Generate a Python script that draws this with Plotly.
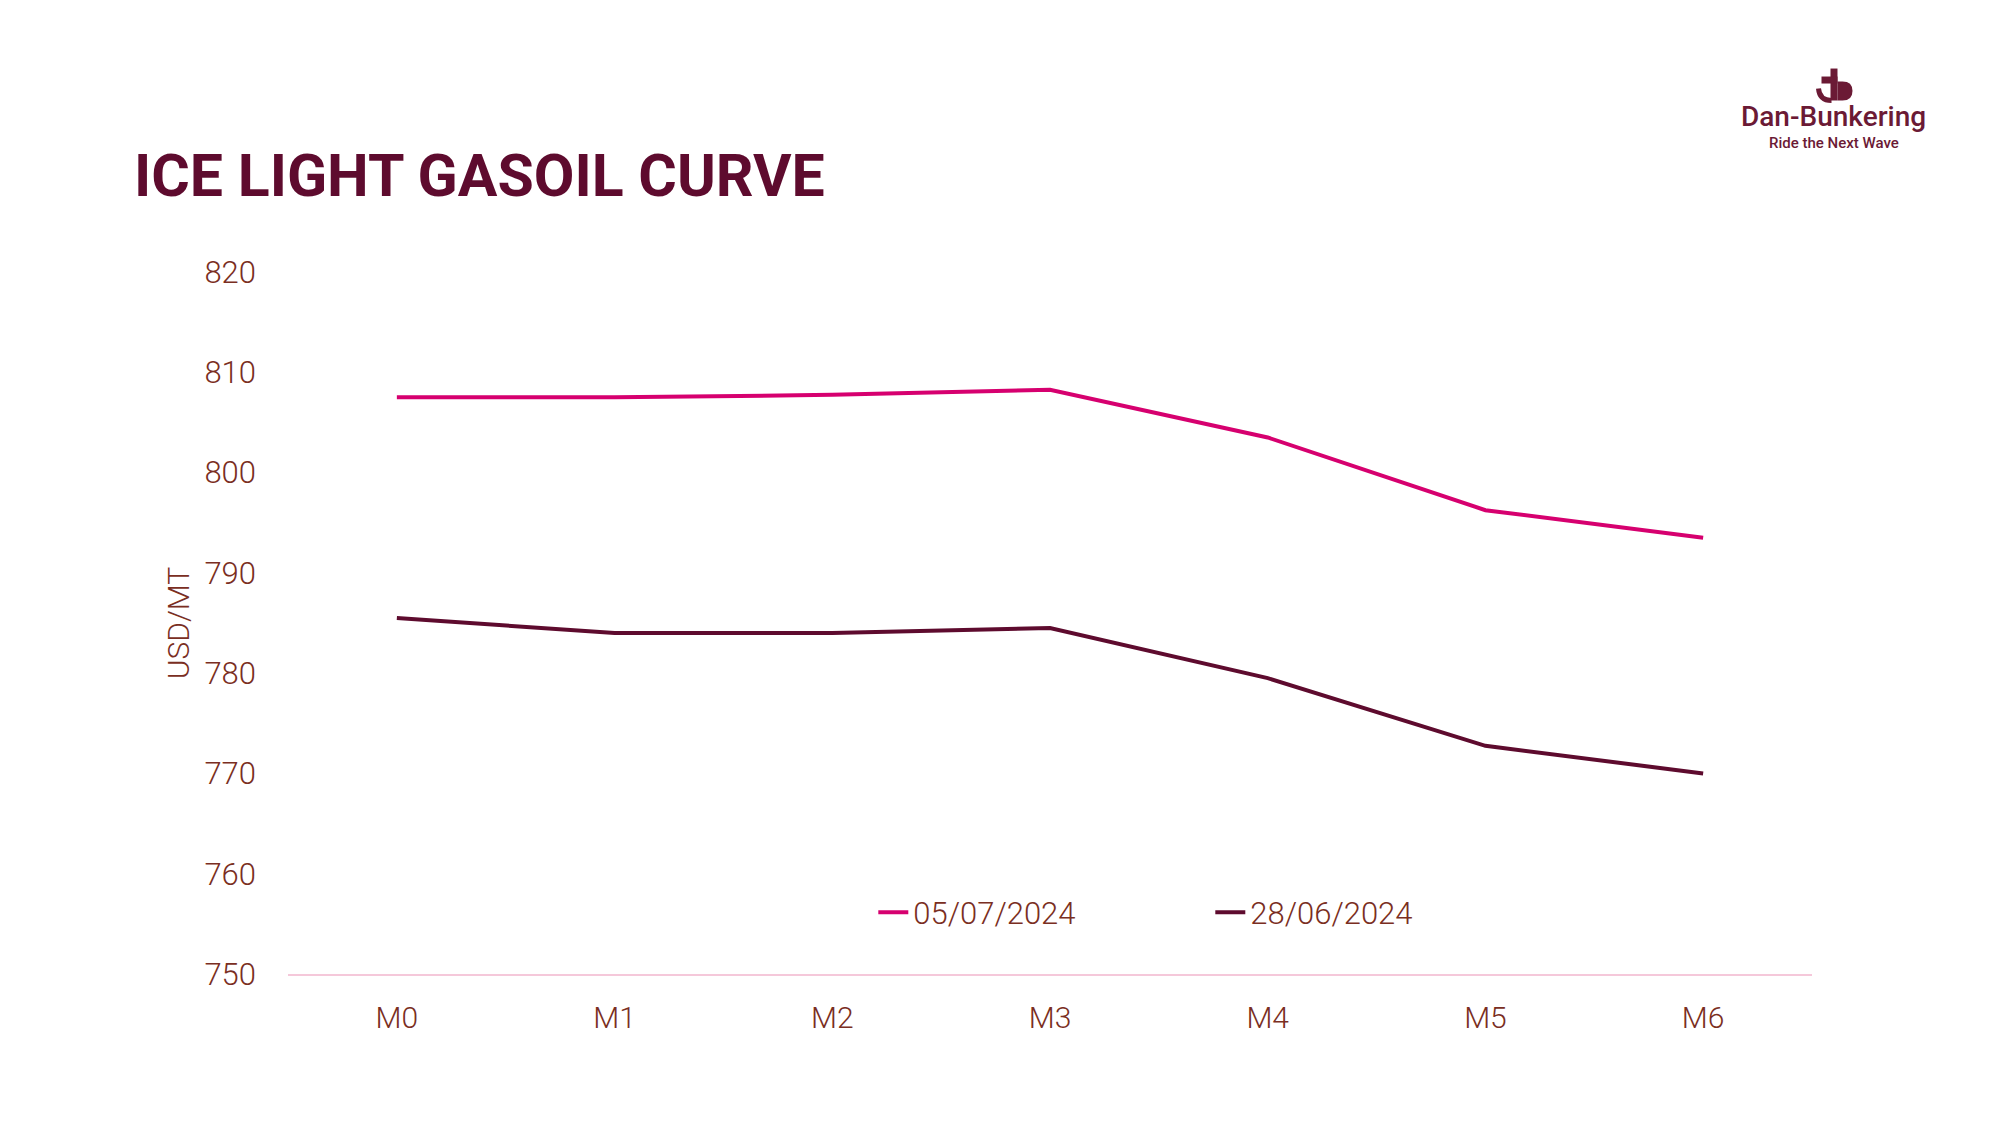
import plotly.graph_objects as go

# ---- data ----
months = ["M0", "M1", "M2", "M3", "M4", "M5", "M6"]
curve_0507 = [807.5, 807.5, 807.75, 808.25, 803.5, 796.25, 793.5]
curve_2806 = [785.5, 784.0, 784.0, 784.5, 779.5, 772.75, 770.0]
series_names = ["05/07/2024", "28/06/2024"]
y_ticks = [750, 760, 770, 780, 790, 800, 810, 820]

PINK = "#D6006F"
MAROON = "#5E0B2E"
TICK = "#7A2E22"
AXIS = "#F5C8DA"
LOGO = "#6B1A35"

OFF = 8  # page body margin
W, H = 2000, 1125
# target plot area in screen pixels
SX0, SX1, SY0, SY1 = 288, 1812.5, 271.7, 974.5
L = SX0 - OFF
T = SY0 - OFF
R = W - (SX1 - OFF)
B = H - (SY1 - OFF)
PW, PH = SX1 - SX0, SY1 - SY0


def px(x):
    return (x - SX0) / PW


def py(y):
    return (SY1 - y) / PH


fig = go.Figure()
fig.add_trace(go.Scatter(x=months, y=curve_0507, name=series_names[0], mode="lines",
                         line=dict(color=PINK, width=4)))
fig.add_trace(go.Scatter(x=months, y=curve_2806, name=series_names[1], mode="lines",
                         line=dict(color=MAROON, width=4)))

fig.update_layout(
    width=W, height=H,
    margin=dict(l=L, r=R, t=T, b=B),
    paper_bgcolor="white", plot_bgcolor="white",
    font=dict(family="Roboto, 'Open Sans', sans-serif", color=TICK),
    showlegend=True,
    legend=dict(orientation="h", x=px(873.5), xanchor="left", y=py(913), yanchor="middle",
                font=dict(size=31, color=TICK, family="Roboto", weight=300),
                entrywidth=292, entrywidthmode="pixels", bgcolor="rgba(0,0,0,0)"),
    xaxis=dict(showgrid=False, showline=True, linecolor=AXIS, linewidth=2,
               range=[-0.5, 6.5],
               ticks="", tickfont=dict(size=30, color=TICK, weight=300),
               ticklabelstandoff=16, zeroline=False),
    yaxis=dict(range=[750, 820], tickvals=y_ticks, showgrid=False, showline=False,
               zeroline=False, ticks="", tickfont=dict(size=31, color=TICK, weight=300),
               ticklabelstandoff=31,
               title=dict(text="USD/MT", font=dict(size=30, color=TICK, weight=300), standoff=5)),
)

# title
fig.add_annotation(text="<b>ICE LIGHT GASOIL CURVE</b>", xref="paper", yref="paper",
                   x=px(132), y=py(175), xanchor="left", yanchor="middle", showarrow=False,
                   font=dict(size=59, color=MAROON, family="Roboto"))

# logo text
fig.add_annotation(text="Dan-Bunkering", xref="paper", yref="paper",
                   x=px(1834), y=py(116), xanchor="center", yanchor="middle", showarrow=False,
                   font=dict(size=28, color=LOGO, family="Roboto", weight=500))
fig.add_annotation(text="Ride the Next Wave", xref="paper", yref="paper",
                   x=px(1835), y=py(143), xanchor="center", yanchor="middle", showarrow=False,
                   font=dict(size=15, color=LOGO, family="Roboto", weight=500))

# logo symbol
fig.add_shape(type="rect", xref="paper", yref="paper",
              x0=px(1831), x1=px(1838), y0=py(100), y1=py(68),
              fillcolor=LOGO, line=dict(width=0))
fig.add_shape(type="rect", xref="paper", yref="paper",
              x0=px(1822), x1=px(1838), y0=py(83), y1=py(76),
              fillcolor=LOGO, line=dict(width=0))
bowl = (f"M {px(1838)},{py(81)} L {px(1843)},{py(81)} "
        f"Q {px(1853)},{py(81)} {px(1853)},{py(90.5)} "
        f"Q {px(1853)},{py(100)} {px(1843)},{py(100)} L {px(1838)},{py(100)} Z")
fig.add_shape(type="path", xref="paper", yref="paper", path=bowl,
              fillcolor=LOGO, line=dict(width=0))
hook = (f"M {px(1832)},{py(100)} Q {px(1820)},{py(100)} {px(1819)},{py(88)}")
fig.add_shape(type="path", xref="paper", yref="paper", path=hook,
              line=dict(color=LOGO, width=5))

fig.write_html("out.html")
